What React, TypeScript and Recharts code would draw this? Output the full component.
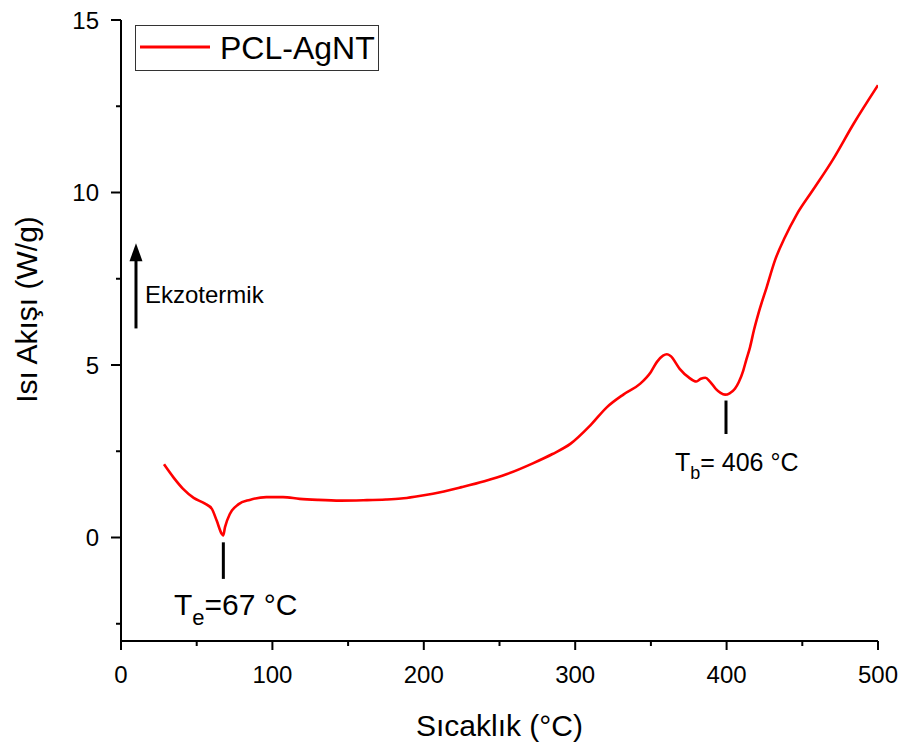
import React from "react";
import {
  LineChart,
  Line,
  XAxis,
  YAxis,
  Legend,
  ReferenceLine,
  ReferenceDot,
  Label,
} from "recharts";

// ---- data ----
const temperature = [
  28.4, 34.5, 41, 48, 55.5, 60, 63.2, 66.5, 67.5, 68.7, 72, 77.5, 85, 96, 107,
  118, 130, 145, 160, 175, 185, 195, 206, 225, 240, 255, 272, 285, 297, 310,
  321, 332, 343, 350, 354, 358, 360.5, 363, 369, 375, 380, 383, 386, 389, 393,
  396, 399, 402, 405.5, 408, 411, 413, 415.5, 418, 421, 426.5, 432, 438.6, 446,
  457, 470, 484, 500,
];
const heatFlow = [
  2.12, 1.75, 1.41, 1.15, 0.98, 0.83, 0.49, 0.11, 0.06, 0.3, 0.69, 0.96, 1.09,
  1.17, 1.17, 1.12, 1.09, 1.07, 1.08, 1.1, 1.13, 1.19, 1.27, 1.46, 1.63, 1.84,
  2.15, 2.42, 2.72, 3.25, 3.78, 4.15, 4.46, 4.8, 5.09, 5.27, 5.31, 5.26, 4.89,
  4.64, 4.52, 4.6, 4.63, 4.52, 4.3, 4.19, 4.14, 4.18, 4.31, 4.5, 4.84, 5.15,
  5.52, 6.0, 6.49, 7.26, 8.04, 8.71, 9.34, 10.07, 10.94, 12.0, 13.11,
];
const xTicks = [0, 50, 100, 150, 200, 250, 300, 350, 400, 450, 500];
const yTicks = [-2.5, 0, 2.5, 5, 7.5, 10, 12.5, 15];
const seriesName = "PCL-AgNT";

const data = temperature.map((t, i) => ({ t, q: heatFlow[i] }));

const FONT = "'Liberation Sans', Arial, Helvetica, sans-serif";

const XTick = (props: any) => {
  const { x, y, payload } = props;
  const v = payload.value;
  const major = v % 100 === 0;
  return (
    <g>
      <line x1={x} y1={y} x2={x} y2={y + (major ? 9 : 5)} stroke="#000" strokeWidth={2} />
      {major && (
        <text x={x} y={y + 42} textAnchor="middle" fontSize={24} fontFamily={FONT} fill="#000">
          {v}
        </text>
      )}
    </g>
  );
};

const YTick = (props: any) => {
  const { x, y, payload } = props;
  const v = payload.value;
  const major = v % 5 === 0;
  return (
    <g>
      <line x1={x} y1={y} x2={x - (major ? 10 : 5)} y2={y} stroke="#000" strokeWidth={2} />
      {major && (
        <text x={x - 22} y={y + 8.5} textAnchor="end" fontSize={24} fontFamily={FONT} fill="#000">
          {v}
        </text>
      )}
    </g>
  );
};

const LegendBox = () => (
  <svg width={244} height={46} style={{ display: "block" }}>
    <rect x={0.5} y={0.5} width={243} height={45} fill="#fff" stroke="#333" strokeWidth={1} />
    <line x1={5} y1={22} x2={75} y2={22} stroke="#ff0000" strokeWidth={3} />
    <text x={85} y={34} fontSize={32} fontFamily={FONT} fill="#000">
      {seriesName}
    </text>
  </svg>
);

export default function App() {
  return (
    <div style={{ position: "absolute", left: 0, top: 0, background: "#fff" }}>
      <LineChart
        width={904}
        height={747}
        data={data}
        margin={{ top: 20, right: 26, left: 0, bottom: 0 }}
      >
        <XAxis
          dataKey="t"
          type="number"
          domain={[0, 500]}
          ticks={xTicks}
          interval={0}
          height={106}
          tickSize={0}
          tickMargin={0}
          tickLine={false}
          tick={<XTick />}
          axisLine={{ stroke: "#000", strokeWidth: 2 }}
          allowDataOverflow
        >
          <Label
            content={(p: any) => {
              const vb = p.viewBox || { x: 121, y: 641, width: 757, height: 106 };
              return (
                <text
                  x={vb.x + vb.width / 2}
                  y={vb.y + 95}
                  textAnchor="middle"
                  fontSize={30}
                  fontFamily={FONT}
                  fill="#000"
                >
                  Sıcaklık (°C)
                </text>
              );
            }}
          />
        </XAxis>
        <YAxis
          type="number"
          domain={[-3, 15]}
          ticks={yTicks}
          interval={0}
          width={121}
          tickSize={0}
          tickMargin={0}
          tickLine={false}
          tick={<YTick />}
          axisLine={{ stroke: "#000", strokeWidth: 2 }}
          allowDataOverflow
        >
          <Label
            content={(p: any) => {
              const vb = p.viewBox || { x: 0, y: 20, width: 121, height: 621 };
              const cx = vb.x + 37;
              const cy = vb.y + vb.height / 2 - 21;
              return (
                <text
                  x={cx}
                  y={cy}
                  transform={`rotate(-90, ${cx}, ${cy})`}
                  textAnchor="middle"
                  fontSize={30}
                  fontFamily={FONT}
                  fill="#000"
                >
                  Isı Akışı (W/g)
                </text>
              );
            }}
          />
        </YAxis>
        <Legend
          content={() => <LegendBox />}
          layout="horizontal"
          verticalAlign="middle"
          align="center"
          wrapperStyle={{ left: 135, top: 25, width: 244, height: 46 }}
        />
        <Line
          type="monotone"
          dataKey="q"
          name={seriesName}
          stroke="#ff0000"
          strokeWidth={2.6}
          dot={false}
          activeDot={false}
          isAnimationActive={false}
        />
        {/* Te marker */}
        <ReferenceLine
          segment={[
            { x: 67.6, y: -0.14 },
            { x: 67.6, y: -1.2 },
          ]}
          stroke="#000"
          strokeWidth={3}
        />
        <ReferenceDot
          x={35}
          y={-2.26}
          r={0}
          shape={(p: any) => (
            <text x={p.cx} y={p.cy} fontSize={30} fontFamily={FONT} fill="#000">
              <tspan>T</tspan>
              <tspan fontSize={22} dy={10}>e</tspan>
              <tspan dy={-10}>=67 °C</tspan>
            </text>
          )}
        />
        {/* Tb marker */}
        <ReferenceLine
          segment={[
            { x: 399.6, y: 3.97 },
            { x: 399.6, y: 3.0 },
          ]}
          stroke="#000"
          strokeWidth={3}
        />
        <ReferenceDot
          x={365.9}
          y={1.94}
          r={0}
          shape={(p: any) => (
            <text x={p.cx} y={p.cy} fontSize={25} fontFamily={FONT} fill="#000">
              <tspan>T</tspan>
              <tspan fontSize={18} dy={8}>b</tspan>
              <tspan dy={-8}>= 406 °C</tspan>
            </text>
          )}
        />
        {/* Ekzotermik arrow */}
        <ReferenceLine
          segment={[
            { x: 9.9, y: 6.06 },
            { x: 9.9, y: 8.1 },
          ]}
          stroke="#000"
          strokeWidth={3}
        />
        <ReferenceDot
          x={9.9}
          y={8.53}
          r={0}
          shape={(p: any) => (
            <polygon
              points={`${p.cx},${p.cy} ${p.cx - 6.5},${p.cy + 18} ${p.cx + 6.5},${p.cy + 18}`}
              fill="#000"
            />
          )}
        />
        <ReferenceDot
          x={15.85}
          y={6.79}
          r={0}
          shape={(p: any) => (
            <text x={p.cx} y={p.cy} fontSize={24} fontFamily={FONT} fill="#000">
              Ekzotermik
            </text>
          )}
        />
      </LineChart>
    </div>
  );
}
